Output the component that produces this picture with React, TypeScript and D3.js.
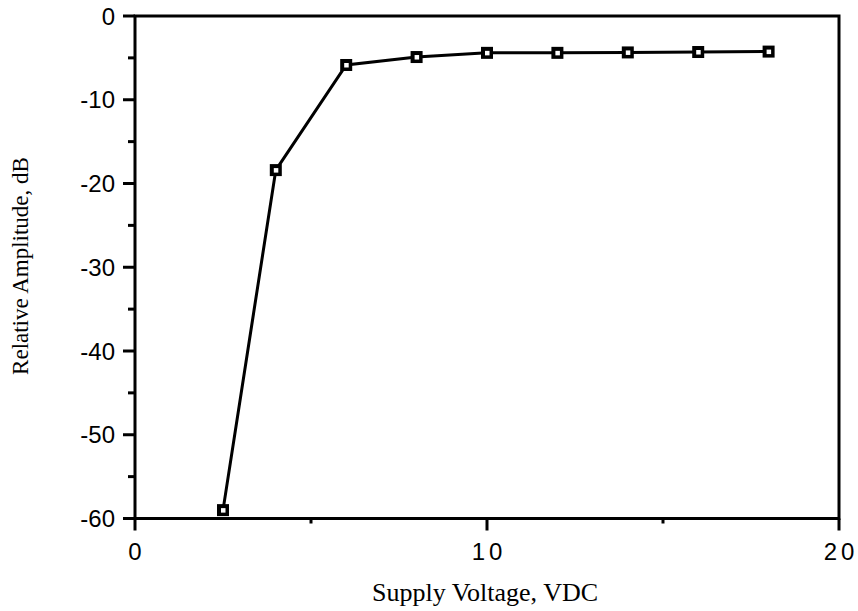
import React, { useEffect, useRef } from "react";
import * as d3 from "d3";

const voltage = [2.5, 4, 6, 8, 10, 12, 14, 16, 18];
const amplitude = [-59, -18.4, -5.85, -4.9, -4.4, -4.4, -4.35, -4.3, -4.25];
const xTicks = [0, 10, 20];
const yTicks = [0, -10, -20, -30, -40, -50, -60];
const xMinor = [5, 15];
const yMinor = [-5, -15, -25, -35, -45, -55];

const W = 858, H = 611;
const M = { left: 135, right: 839, top: 16, bottom: 518.5 };

export default function App() {
  const ref = useRef<SVGSVGElement>(null);
  useEffect(() => {
    const svg = d3.select(ref.current);
    svg.selectAll("*").remove();
    const x = d3.scaleLinear().domain([0, 20]).range([M.left, M.right]);
    const y = d3.scaleLinear().domain([-60, 0]).range([M.bottom, M.top]);
    const sans = "Liberation Sans, Arial, sans-serif";
    const serif = "Liberation Serif, Times New Roman, serif";

    // frame
    svg.append("rect").attr("x", M.left).attr("y", M.top)
      .attr("width", M.right - M.left).attr("height", M.bottom - M.top)
      .attr("fill", "none").attr("stroke", "#000").attr("stroke-width", 3);

    // y ticks
    yTicks.forEach(v => {
      svg.append("line").attr("x1", M.left - 12).attr("x2", M.left)
        .attr("y1", y(v)).attr("y2", y(v)).attr("stroke", "#000").attr("stroke-width", 3);
      svg.append("text").attr("x", 115).attr("y", y(v)).attr("dy", "0.36em")
        .attr("text-anchor", "end").attr("font-family", sans)
        .attr("font-size", 24).text(String(v));
    });
    yMinor.forEach(v => {
      svg.append("line").attr("x1", M.left - 7).attr("x2", M.left)
        .attr("y1", y(v)).attr("y2", y(v)).attr("stroke", "#000").attr("stroke-width", 3);
    });
    // x ticks
    xTicks.forEach(v => {
      svg.append("line").attr("x1", x(v)).attr("x2", x(v))
        .attr("y1", M.bottom).attr("y2", M.bottom + 12).attr("stroke", "#000").attr("stroke-width", 3);
      svg.append("text").attr("x", x(v) + (v >= 10 ? 2 : 0)).attr("y", 560)
        .attr("text-anchor", "middle").attr("font-family", sans)
        .attr("font-size", 24).attr("letter-spacing", v >= 10 ? 4 : 0).text(String(v));
    });
    xMinor.forEach(v => {
      svg.append("line").attr("x1", x(v)).attr("x2", x(v))
        .attr("y1", M.bottom).attr("y2", M.bottom + 5).attr("stroke", "#000").attr("stroke-width", 3);
    });

    // line
    const pts = voltage.map((v, i) => [v, amplitude[i]] as [number, number]);
    const line = d3.line<[number, number]>().x(d => x(d[0])).y(d => y(d[1]));
    svg.append("path").attr("d", line(pts)!).attr("fill", "none")
      .attr("stroke", "#000").attr("stroke-width", 3);

    // markers
    pts.forEach(d => {
      svg.append("rect").attr("x", x(d[0]) - 6).attr("y", y(d[1]) - 6)
        .attr("width", 12).attr("height", 12).attr("fill", "#000");
      svg.append("rect").attr("x", x(d[0]) - 2).attr("y", y(d[1]) - 2)
        .attr("width", 4.5).attr("height", 4.5).attr("fill", "#fff");
    });

    // titles
    svg.append("text").attr("x", 485).attr("y", 601).attr("text-anchor", "middle")
      .attr("font-family", serif).attr("font-size", 26)
      .text("Supply Voltage, VDC");
    svg.append("text").attr("transform", `translate(28, 266) rotate(-90)`)
      .attr("text-anchor", "middle")
      .attr("font-family", serif).attr("font-size", 23)
      .text("Relative Amplitude, dB");
  }, []);
  return (
    <svg ref={ref} width={W} height={H}
      style={{ position: "absolute", left: 0, top: 0, background: "#fff" }} />
  );
}
